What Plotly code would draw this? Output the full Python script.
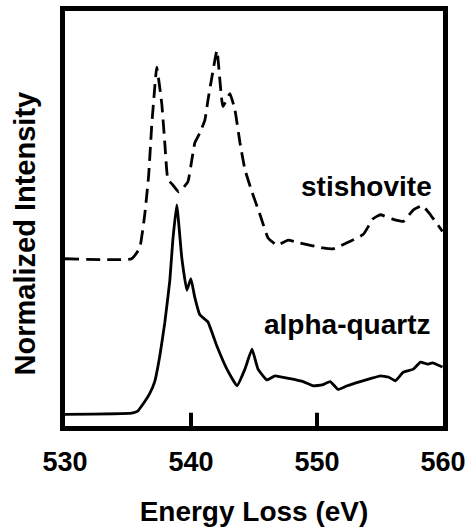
import plotly.graph_objects as go

# Stishovite (dashed, upper spectrum)
stish_energy = [530.0, 535.29, 535.93, 536.33, 536.64, 536.88, 537.12, 537.28, 537.68, 537.92,
                538.16, 538.55, 539.03, 539.75, 540.07, 540.30, 540.70, 541.10, 541.34, 541.66,
                542.06, 542.53, 543.09, 543.49, 543.89, 544.28, 544.84, 545.48, 546.12, 546.83,
                547.71, 548.66, 550.49, 551.29, 552.64, 553.68, 554.47, 555.03, 556.06, 556.86,
                557.65, 558.37, 559.00, 559.96]
stish_int = [40.3, 40.3, 42.9, 51.0, 60.4, 72.3, 81.5, 86.5, 77.7, 68.2,
             59.5, 58.1, 56.4, 58.8, 64.2, 68.2, 70.6, 73.7, 78.4, 84.1,
             90.5, 77.0, 80.1, 76.1, 68.2, 61.8, 56.4, 50.9, 45.3, 43.6,
             44.8, 44.1, 42.9, 42.7, 44.5, 46.2, 50.0, 50.9, 49.8, 49.3,
             52.1, 53.1, 50.9, 46.9]

# Alpha-quartz (solid, lower spectrum)
quartz_energy = [530.0, 535.29, 535.77, 536.33, 536.72, 537.12, 537.52, 537.92, 538.32, 538.55,
                 538.87, 539.27, 539.67, 539.99, 540.30, 540.70, 541.34, 542.06, 542.85, 543.65,
                 544.28, 544.84, 545.32, 546.03, 546.67, 547.87, 548.90, 549.70, 550.41, 551.05,
                 551.68, 552.40, 553.43, 554.23, 555.03, 555.66, 556.22, 556.86, 557.65, 558.21,
                 558.77, 559.16, 559.96]
quartz_int = [2.8, 3.1, 3.6, 5.9, 7.8, 10.7, 16.8, 24.9, 35.1, 44.5,
              53.3, 40.5, 32.7, 35.5, 31.0, 26.8, 25.1, 19.2, 13.7, 9.7,
              13.7, 18.5, 13.7, 11.1, 12.1, 11.4, 10.7, 9.7, 9.9, 10.7,
              8.8, 9.7, 10.7, 11.4, 12.1, 11.8, 10.9, 13.0, 13.7, 15.4,
              14.9, 15.2, 14.2]

x_ticks = [530, 540, 550, 560]
labels = ["stishovite", "alpha-quartz"]
label_pos = [(553.9, 57.6), (552.4, 24.4)]

FONT = "Arial, 'Liberation Sans', Helvetica, sans-serif"
TICK_LEN = 3.2  # inward tick length in y-axis units

fig = go.Figure()
fig.add_trace(go.Scatter(x=stish_energy, y=stish_int, mode="lines",
                         line=dict(color="black", width=2.8, dash="14px,7px",
                                   shape="spline", smoothing=0.35),
                         showlegend=False, hoverinfo="skip"))
fig.add_trace(go.Scatter(x=quartz_energy, y=quartz_int, mode="lines",
                         line=dict(color="black", width=2.8, shape="spline", smoothing=0.35),
                         showlegend=False, hoverinfo="skip"))

# inward tick marks on the bottom axis, built from the interior tick values
for t in x_ticks[1:-1]:
    fig.add_trace(go.Scatter(x=[t, t], y=[0, TICK_LEN], mode="lines",
                             line=dict(color="black", width=4),
                             showlegend=False, hoverinfo="skip", cliponaxis=False))

for txt, (lx, ly) in zip(labels, label_pos):
    fig.add_annotation(x=lx, y=ly, text=txt, showarrow=False,
                       xanchor="center", yanchor="middle",
                       font=dict(family=FONT, size=28, color="black", weight="bold"))

# y-axis title placed as a rotated annotation (centred slightly below the plot middle)
fig.add_annotation(x=0, y=0.464, xref="paper", yref="paper", xshift=-40,
                   text="Normalized Intensity", textangle=-90, showarrow=False,
                   xanchor="center", yanchor="middle",
                   font=dict(family=FONT, size=29, color="black", weight="bold"))

fig.update_layout(
    width=472, height=529,
    margin=dict(l=65, r=29, t=6, b=101),
    plot_bgcolor="white", paper_bgcolor="white",
    font=dict(family=FONT, color="black"),
)
fig.update_xaxes(
    range=[530, 560], tickvals=x_ticks, ticktext=[str(t) for t in x_ticks],
    ticks="inside", ticklen=11, tickwidth=3, tickcolor="black",
    showline=True, linewidth=5, linecolor="black", mirror=True,
    showgrid=False, zeroline=False,
    tickfont=dict(family=FONT, size=27, color="black", weight="bold"),
    ticklabelstandoff=8,
    title=dict(text="Energy Loss (eV)", standoff=26,
               font=dict(family=FONT, size=28, color="black", weight="bold")),
)
fig.update_yaxes(
    range=[0, 100], showticklabels=False, ticks="",
    showline=True, linewidth=5, linecolor="black", mirror=True,
    showgrid=False, zeroline=False,
)

fig.write_html("out.html")
